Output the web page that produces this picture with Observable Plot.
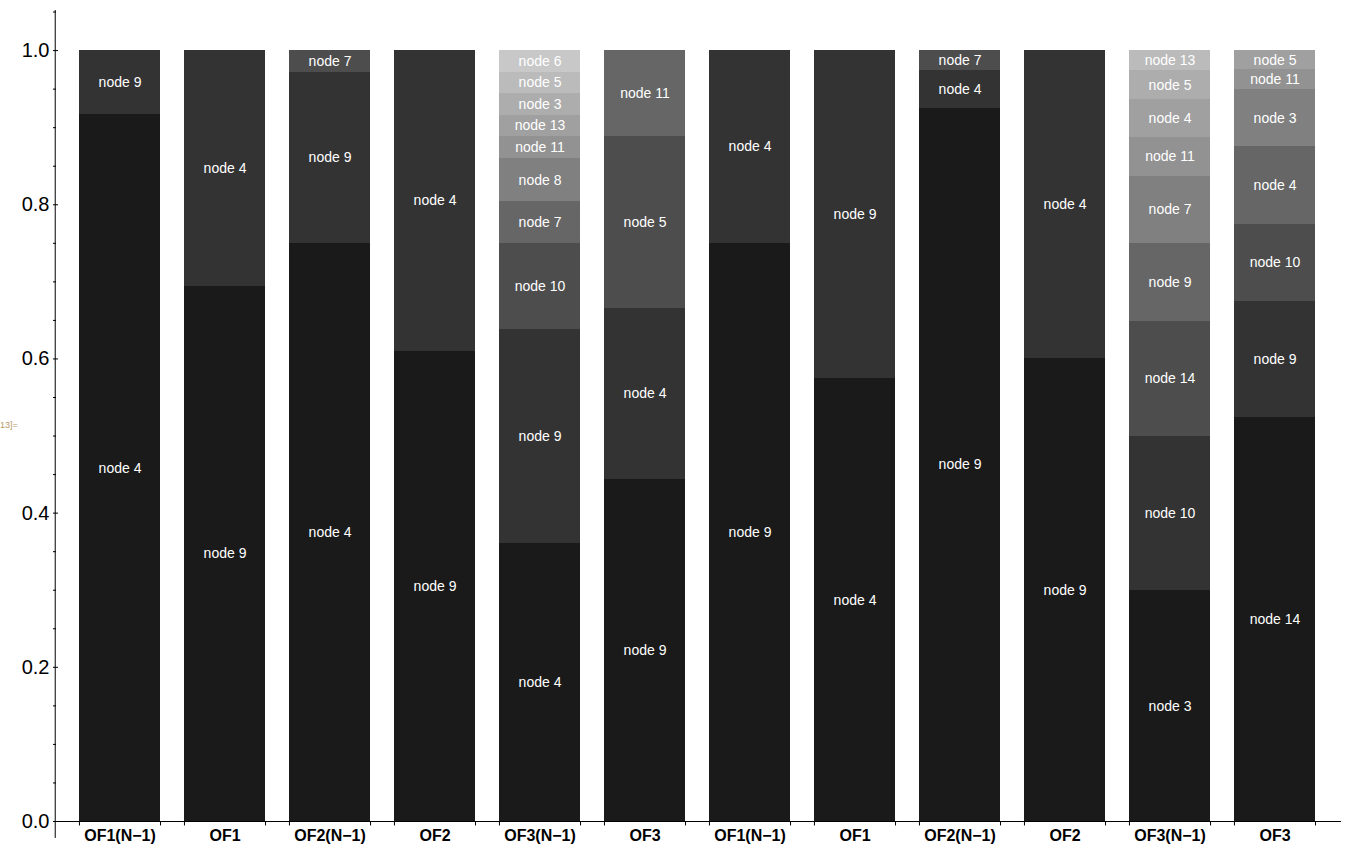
<!DOCTYPE html>
<html>
<head>
<meta charset="utf-8">
<script src="https://cdn.jsdelivr.net/npm/d3@7"></script>
<script src="https://cdn.jsdelivr.net/npm/@observablehq/plot@0.6"></script>
<style>
  html, body { margin: 0; padding: 0; background: #fff; }
  #wrap { position: relative; width: 1359px; height: 853px; }
  #out { position: absolute; left: 0px; top: 420px; font: 9px "Liberation Sans", Arial, sans-serif; color: #b89a6a; white-space: nowrap; }
</style>
</head>
<body>
<div id="wrap"><div id="out">13]=</div></div>
<script>
// ---- data ----
const barLabels = ["OF1(N\u22121)", "OF1", "OF2(N\u22121)", "OF2", "OF3(N\u22121)", "OF3",
                   "OF1(N\u22121)", "OF1", "OF2(N\u22121)", "OF2", "OF3(N\u22121)", "OF3"];
// segments listed bottom to top
const segNodes = [
  ["node 4", "node 9"],
  ["node 9", "node 4"],
  ["node 4", "node 9", "node 7"],
  ["node 9", "node 4"],
  ["node 4", "node 9", "node 10", "node 7", "node 8", "node 11", "node 13", "node 3", "node 5", "node 6"],
  ["node 9", "node 4", "node 5", "node 11"],
  ["node 9", "node 4"],
  ["node 4", "node 9"],
  ["node 9", "node 4", "node 7"],
  ["node 9", "node 4"],
  ["node 3", "node 10", "node 14", "node 9", "node 7", "node 11", "node 4", "node 5", "node 13"],
  ["node 14", "node 9", "node 10", "node 4", "node 3", "node 11", "node 5"]
];
const segValues = [
  [0.917, 0.083],
  [0.694, 0.306],
  [0.750, 0.222, 0.028],
  [0.610, 0.390],
  [0.360, 0.278, 0.112, 0.054, 0.056, 0.029, 0.027, 0.028, 0.028, 0.028],
  [0.444, 0.222, 0.223, 0.111],
  [0.750, 0.250],
  [0.574, 0.426],
  [0.925, 0.049, 0.026],
  [0.600, 0.400],
  [0.299, 0.200, 0.150, 0.101, 0.087, 0.050, 0.049, 0.038, 0.026],
  [0.524, 0.151, 0.100, 0.100, 0.075, 0.025, 0.025]
];
const grays = ["#1a1a1a", "#333333", "#4d4d4d", "#666666", "#808080",
               "#929292", "#a0a0a0", "#adadad", "#bbbbbb", "#c8c8c8"];
const majorTicks = [0, 0.2, 0.4, 0.6, 0.8, 1.0];
const minorTicks = [0.05, 0.1, 0.15, 0.25, 0.3, 0.35, 0.45, 0.5, 0.55, 0.65, 0.7, 0.75, 0.85, 0.9, 0.95, 1.05];

// ---- table ----
const rows = [];
segNodes.forEach((nodes, b) => nodes.forEach((node, k) => {
  rows.push({bar: b, node, value: segValues[b][k], fill: grays[k]});
}));

// ---- layout ----
const W = 1359, H = 853, mL = 53, mR = 18, mT = 10, mB = 32;
const n = barLabels.length;
const pad = 0.23;
const frameW = W - mL - mR;
const step = frameW / (n + pad);
const bw = step * (1 - pad);
const font = "'Liberation Sans', Arial, sans-serif";
const idx = d3.range(n);

const chart = Plot.plot({
  width: W, height: H,
  marginLeft: mL, marginRight: mR, marginTop: mT, marginBottom: mB,
  style: {fontFamily: font, background: "white", color: "black"},
  x: {domain: idx, padding: pad, align: 0.5, label: null},
  y: {domain: [0, 1.052], label: null},
  color: {type: "identity"},
  marks: [
    Plot.barY(rows, Plot.stackY({x: "bar", y: "value", fill: "fill", shapeRendering: "crispEdges"})),
    Plot.text(rows, Plot.stackY({x: "bar", y: "value", text: "node", fill: "white", fontSize: 14, fontFamily: font})),
    // x axis line
    Plot.ruleY([0], {stroke: "black", strokeWidth: 1}),
    // y axis line
    Plot.ruleX([0], {x: d => d, y1: -0.022, y2: 1.052, dx: -(bw / 2 + step * pad), stroke: "black"}),
    // x ticks at bar edges
    Plot.ruleX(idx, {x: d => d, y1: 0, y2: -0.0058, dx: -bw / 2, stroke: "black"}),
    Plot.ruleX(idx, {x: d => d, y1: 0, y2: -0.0058, dx: bw / 2, stroke: "black"}),
    // y ticks (inward)
    Plot.tickY(majorTicks, {y: d => d, insetRight: frameW - 5, stroke: "black"}),
    Plot.tickY(minorTicks, {y: d => d, insetRight: frameW - 3, stroke: "black"}),
    Plot.axisY({ticks: majorTicks, tickSize: 0, tickPadding: 4, tickFormat: d3.format(".1f"), fontSize: 20, fontFamily: font, label: null}),
    Plot.axisX({tickSize: 0, tickPadding: 8, tickFormat: i => barLabels[i], fontSize: 16, fontWeight: "bold", fontFamily: font, label: null})
  ]
});
document.getElementById("wrap").prepend(chart);
</script>
</body>
</html>
